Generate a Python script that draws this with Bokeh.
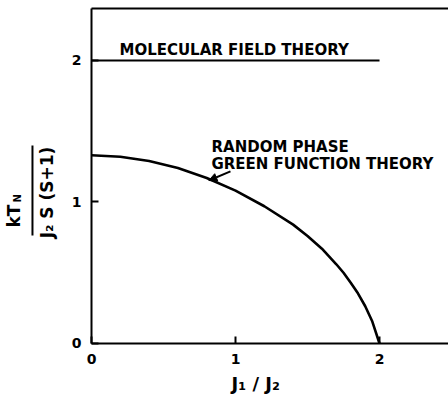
import math

from bokeh.embed import file_html
from bokeh.models import Arrow, FixedTicker, Label, LinearAxis, NormalHead, Range1d
from bokeh.plotting import figure
from bokeh.resources import INLINE

# Neel temperature vs. exchange ratio J1/J2
ratio_rpa = [0.0, 0.2, 0.4, 0.6, 0.8, 1.0, 1.2, 1.4, 1.5, 1.6, 1.7, 1.75, 1.8, 1.85, 1.9, 1.95, 2.0]
tn_rpa = [1.33, 1.32, 1.29, 1.24, 1.17, 1.08, 0.97, 0.84, 0.76, 0.67, 0.56, 0.50, 0.43, 0.355, 0.265, 0.155, 0.0]

ratio_mft = [0.0, 2.0]
tn_mft = [2.0, 2.0]

x_ticks = [0, 1, 2]
y_ticks = [0, 1, 2]

X_MAX = 2.48   # right edge of the drawn box (open on the right)
Y_MAX = 2.367  # top edge of the box

FONT = "DejaVu Sans"

# The frame fills the whole canvas; the axes sit at x=0 / y=0 so that the
# titles outside the box are still inside the drawable frame.
p = figure(
    width=448,
    height=395,
    x_range=Range1d(-0.632, 2.479),
    y_range=Range1d(-0.3675, 2.424),
    output_backend="svg",
    toolbar_location=None,
    min_border=0,
)
p.xgrid.visible = False
p.ygrid.visible = False
p.outline_line_color = None
p.background_fill_color = "white"
p.border_fill_color = "white"

for ax in (p.xaxis[0], p.yaxis[0]):
    ax.fixed_location = 0
    ax.axis_line_width = 2
    ax.axis_line_color = "black"
    ax.major_tick_in = 7
    ax.major_tick_out = 0
    ax.major_tick_line_width = 2
    ax.minor_tick_in = 0
    ax.minor_tick_out = 0
    ax.major_label_text_font = FONT
    ax.major_label_text_font_style = "bold"
    ax.major_label_text_font_size = "14px"
    ax.major_label_text_color = "black"

p.xaxis.ticker = x_ticks
p.yaxis.ticker = y_ticks
p.xaxis.bounds = (0, X_MAX)
p.yaxis.bounds = (0, Y_MAX)
p.xaxis.major_label_standoff = 11
p.yaxis.major_label_standoff = 10

# top edge of the box, no ticks
top = LinearAxis(
    fixed_location=Y_MAX,
    bounds=(0, X_MAX),
    ticker=FixedTicker(ticks=[]),
    axis_line_width=2,
    axis_line_color="black",
    major_tick_in=0,
    major_tick_out=0,
    minor_tick_in=0,
    minor_tick_out=0,
    major_label_text_font_size="0px",
)
p.add_layout(top, "above")

# curves
p.line(ratio_mft, tn_mft, line_color="black", line_width=2.2)
p.line(ratio_rpa, tn_rpa, line_color="black", line_width=2.6)

text_kw = dict(text_font=FONT, text_font_style="bold", text_color="black")

p.add_layout(Label(x=0.194, y=2.073, text="MOLECULAR FIELD THEORY", text_font_size="15px",
                   text_baseline="alphabetic", **text_kw))
p.add_layout(Label(x=0.833, y=1.392, text="RANDOM PHASE", text_font_size="15px",
                   text_baseline="alphabetic", **text_kw))
p.add_layout(Label(x=0.833, y=1.265, text="GREEN FUNCTION THEORY", text_font_size="15px",
                   text_baseline="alphabetic", **text_kw))

p.add_layout(Arrow(
    end=NormalHead(size=8, fill_color="black", line_color="black"),
    x_start=0.965, y_start=1.216, x_end=0.815, y_end=1.152,
    line_width=2, line_color="black",
))

# x axis title
p.add_layout(Label(x=1.14, y=-0.283, text="J₁ / J₂", text_font_size="18px",
                   text_align="center", text_baseline="middle", **text_kw))

# y axis title as a fraction, rotated
rot = math.pi / 2
p.add_layout(Label(x=-0.535, y=0.82, text="kT", text_font_size="17px", angle=rot,
                   text_align="left", text_baseline="alphabetic", **text_kw))
p.add_layout(Label(x=-0.515, y=0.996, text="N", text_font_size="10px", angle=rot,
                   text_align="left", text_baseline="alphabetic", **text_kw))
p.add_layout(Arrow(start=None, end=None, x_start=-0.41, y_start=0.763, x_end=-0.41, y_end=1.399,
                   line_width=2, line_color="black"))
p.add_layout(Label(x=-0.306, y=1.067, text="J₂ S (S+1)", text_font_size="17px", angle=rot,
                   text_align="center", text_baseline="alphabetic", **text_kw))

open("out.html", "w").write(file_html(p, INLINE))
